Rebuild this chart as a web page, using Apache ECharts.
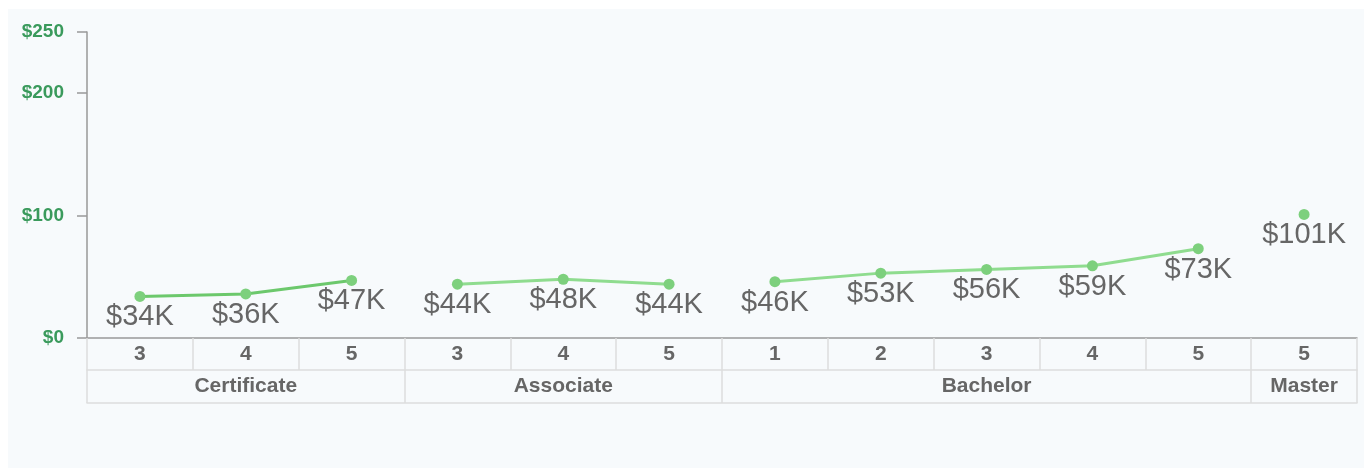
<!DOCTYPE html>
<html>
<head>
<meta charset="utf-8">
<script src="https://cdn.jsdelivr.net/npm/echarts@6/dist/echarts.min.js"></script>
<style>
  html, body { margin: 0; padding: 0; background: #fff; }
  #chart { width: 1364px; height: 468px; }
</style>
</head>
<body>
<div id="chart"></div>
<script>
// one entry per column on the x axis
const degrees = ['Certificate', 'Certificate', 'Certificate',
                 'Associate', 'Associate', 'Associate',
                 'Bachelor', 'Bachelor', 'Bachelor', 'Bachelor', 'Bachelor',
                 'Master'];
const levels = ['3', '4', '5', '3', '4', '5', '1', '2', '3', '4', '5', '5'];
// salary in $K
const salaries = [34, 36, 47, 44, 48, 44, 46, 53, 56, 59, 73, 101];
const groupNames = ['Certificate', 'Associate', 'Bachelor', 'Master'];
const yTicks = [0, 100, 200, 250];

const lineColors = {
  Certificate: '#6cc86c',
  Associate: '#8fdc8f',
  Bachelor: '#8fdc8f',
  Master: '#8fdc8f'
};

// first index of every group + middle index (for the group label)
const groupStarts = [];
const groupMiddles = [];
groupNames.forEach(g => {
  const first = degrees.indexOf(g);
  const last = degrees.lastIndexOf(g);
  groupStarts.push(first);
  groupMiddles.push(first + Math.floor((last - first) / 2));
});

const series = groupNames.map(g => ({
  name: g,
  type: 'line',
  xAxisIndex: 0,
  data: salaries.map((v, i) => degrees[i] === g ? v : '-'),
  symbol: 'circle',
  symbolSize: 11,
  lineStyle: { color: lineColors[g], width: 3 },
  itemStyle: { color: '#7dd07d' },
  label: {
    show: true,
    position: 'bottom',
    distance: 1,
    color: '#666',
    fontFamily: 'Liberation Sans, Arial, sans-serif',
    fontSize: 29,
    formatter: p => '$' + p.value + 'K'
  },
  emphasis: { disabled: true },
  animation: false
}));

const chart = echarts.init(document.getElementById('chart'), null, { renderer: 'canvas' });

chart.setOption({
  backgroundColor: '#ffffff',
  animation: false,
  graphic: [{
    type: 'rect',
    z: -10,
    silent: true,
    shape: { x: 8, y: 9, width: 1356, height: 459 },
    style: { fill: '#f7fafc' }
  }],
  grid: { left: 87, right: 7, top: 32, bottom: 130, containLabel: false },
  xAxis: [
    {
      type: 'category',
      data: levels,
      position: 'bottom',
      boundaryGap: true,
      axisLine: { show: true, lineStyle: { color: '#999', width: 1.5 } },
      axisTick: { show: true, length: 32, interval: 0, lineStyle: { color: '#ddd', width: 1.5 } },
      axisLabel: {
        interval: 0, margin: 6, color: '#666', fontWeight: 'bold', fontSize: 21,
        fontFamily: 'Liberation Sans, Arial, sans-serif'
      },
      splitLine: { show: false }
    },
    {
      type: 'category',
      data: degrees,
      position: 'bottom',
      offset: 32,
      boundaryGap: true,
      axisLine: { show: true, lineStyle: { color: '#ddd', width: 1.5 } },
      axisTick: {
        show: true, length: 33,
        interval: i => groupStarts.includes(i),
        lineStyle: { color: '#ddd', width: 1.5 }
      },
      axisLabel: {
        interval: i => groupMiddles.includes(i),
        margin: 6, color: '#666', fontWeight: 'bold', fontSize: 21,
        fontFamily: 'Liberation Sans, Arial, sans-serif'
      },
      splitLine: { show: false }
    },
    {
      type: 'category',
      data: degrees,
      position: 'bottom',
      offset: 65,
      axisLine: { show: true, lineStyle: { color: '#ddd', width: 1.5 } },
      axisTick: { show: false },
      axisLabel: { show: false },
      splitLine: { show: false }
    }
  ],
  yAxis: {
    type: 'value',
    min: 0,
    max: 250,
    interval: 50,
    axisLine: { show: true, lineStyle: { color: '#999', width: 1.5 } },
    axisTick: { show: true, length: 10, customValues: yTicks, lineStyle: { color: '#999', width: 1.5 } },
    axisLabel: {
      customValues: yTicks,
      margin: 23,
      color: '#3a9a5c',
      fontWeight: 'bold',
      fontSize: 19,
      fontFamily: 'Liberation Sans, Arial, sans-serif',
      formatter: v => '$' + v
    },
    splitLine: { show: false }
  },
  series: series
});
</script>
</body>
</html>
